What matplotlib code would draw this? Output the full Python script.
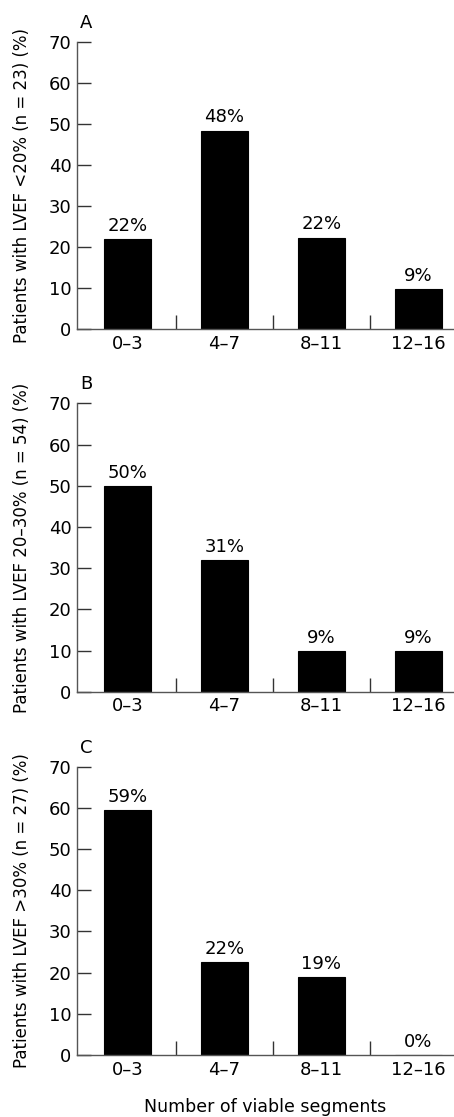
import matplotlib
matplotlib.use("Agg")
import matplotlib.pyplot as plt
import numpy as np

categories = ['0–3', '4–7', '8–11', '12–16']
heights_a = [21.9, 48.4, 22.3, 9.7]
labels_a = [22, 48, 22, 9]
heights_b = [50.0, 31.9, 9.8, 9.8]
labels_b = [50, 31, 9, 9]
heights_c = [59.4, 22.6, 18.9, 0.0]
labels_c = [59, 22, 19, 0]
ylabels = ['Patients with LVEF <20% (n = 23) (%)',
           'Patients with LVEF 20–30% (n = 54) (%)',
           'Patients with LVEF >30% (n = 27) (%)']
panel_letters = ['A', 'B', 'C']
xlabel = 'Number of viable segments'
yticks = [0, 10, 20, 30, 40, 50, 60, 70]

plt.rcParams['font.family'] = ['DejaVu Sans']
W, H = 454, 1117
fig = plt.figure(figsize=(W / 100, H / 100), dpi=100)

# axes pixel boxes: (top, bottom)
boxes = [(42, 329), (403.3, 691.7), (766.7, 1055)]
left_px = 77
spine_col = '#555555'
fs = 13

datasets = [(heights_a, labels_a), (heights_b, labels_b), (heights_c, labels_c)]
x = np.arange(len(categories))

for i, ((top, bot), (hts, labs)) in enumerate(zip(boxes, datasets)):
    ax = fig.add_axes([left_px / W, 1 - bot / H, 1 - left_px / W, (bot - top) / H])
    ax.bar(x, hts, width=0.485, color='black', edgecolor='black', linewidth=0.8)
    for xi, h, lab in zip(x, hts, labs):
        ax.annotate(f'{lab}%', (xi, h), xytext=(0, 3), textcoords='offset points',
                    ha='center', va='bottom', fontsize=fs)
    ax.set_xlim(-0.52, 3.366)
    ax.set_ylim(0, 70)
    ax.set_yticks(yticks)
    ax.set_xticks(x)
    ax.set_xticklabels(categories, fontsize=fs)
    ax.set_xticks([0.5, 1.5, 2.5], minor=True)
    ax.tick_params(axis='x', which='major', length=0, pad=4)
    ax.tick_params(axis='x', which='minor', direction='in', length=10, width=1, color='#333333')
    ax.tick_params(axis='y', direction='in', length=10, width=1, color='#333333', labelsize=fs, pad=4)
    for s in ['top', 'right']:
        ax.spines[s].set_visible(False)
    for s in ['left', 'bottom']:
        ax.spines[s].set_color(spine_col)
        ax.spines[s].set_linewidth(1.0)
    ax.set_ylabel(ylabels[i], fontsize=12, va='center')
    ax.yaxis.set_label_coords((22 - left_px) / (W - left_px), 0.5)
    fig.text(80 / W, 1 - (top - 14) / H, panel_letters[i], fontsize=fs, ha='left', va='baseline')

fig.text((left_px + (W - left_px) / 2) / W, 1 - 1107 / H, xlabel, fontsize=12.5,
         ha='center', va='center')

fig.savefig('out.png', dpi=100)
